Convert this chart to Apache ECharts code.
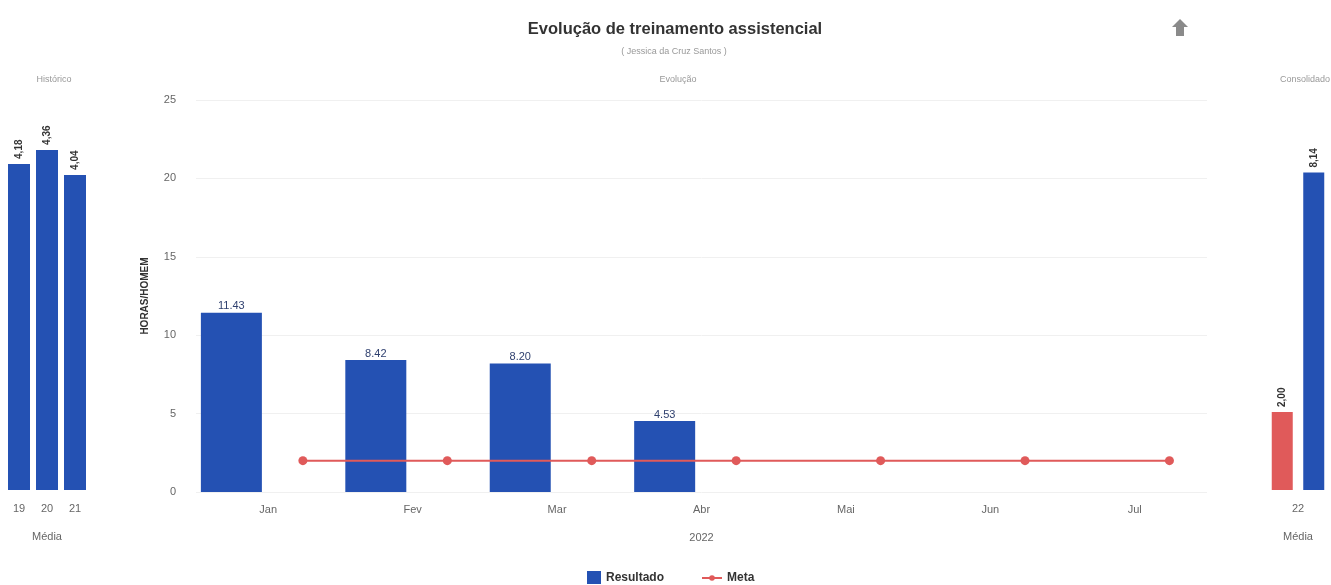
<!DOCTYPE html>
<html>
<head>
<meta charset="utf-8">
<script src="https://cdn.jsdelivr.net/npm/echarts@6/dist/echarts.min.js"></script>
<style>html,body{margin:0;padding:0;background:#fff}#c{width:1331px;height:585px}</style>
</head>
<body>
<div id="c"></div>
<script>
// ---- data ----
const histCategories = ['19', '20', '21'];
const histValues = [4.18, 4.36, 4.04];
const months = ['Jan', 'Fev', 'Mar', 'Abr', 'Mai', 'Jun', 'Jul'];
const resultadoValues = [11.43, 8.42, 8.20, 4.53, null, null, null];
const metaValues = [2, 2, 2, 2, 2, 2, 2];
const consCategories = ['22'];
const consMeta = [2.00];
const consResultado = [8.14];
const yTicks = { min: 0, max: 25, interval: 5 };

const BLUE = '#2451b3';
const RED = '#e05a5a';
const FONT = '"Liberation Sans", Arial, sans-serif';

const BAR_OFFSET = -0.255;
const LINE_OFFSET = 0.24;

const comma = v => v.toFixed(2).replace('.', ',');

const rotLabel = {
  show: true, position: 'top', rotate: 90, align: 'left', verticalAlign: 'middle',
  distance: 5, fontSize: 10, fontWeight: 'bold', color: '#333', fontFamily: FONT,
  formatter: p => comma(p.value)
};

const legendText = { fontSize: 12, fontWeight: 'bold', color: '#333', fontFamily: FONT };

const chart = echarts.init(document.getElementById('c'));
chart.setOption({
  animation: false,
  textStyle: { fontFamily: FONT },
  title: [
    { text: 'Evolução de treinamento assistencial', left: 670, top: 16, textAlign: 'center',
      textStyle: { fontSize: 16.5, fontWeight: 'bold', color: '#333', fontFamily: FONT } },
    { text: '( Jessica da Cruz Santos )', left: 669, top: 42, textAlign: 'center',
      textStyle: { fontSize: 9, fontWeight: 'normal', color: '#999', fontFamily: FONT } },
    { text: 'Evolução', left: 673, top: 70, textAlign: 'center',
      textStyle: { fontSize: 9, fontWeight: 'normal', color: '#999', fontFamily: FONT } },
    { text: 'Histórico', left: 49, top: 70, textAlign: 'center',
      textStyle: { fontSize: 9, fontWeight: 'normal', color: '#999', fontFamily: FONT } },
    { text: 'Consolidado', left: 1300, top: 70, textAlign: 'center',
      textStyle: { fontSize: 9, fontWeight: 'normal', color: '#999', fontFamily: FONT } }
  ],
  graphic: [{
    type: 'polygon', left: 1172, top: 19,
    shape: { points: [[8, 0], [16, 8], [12, 8], [12, 17], [4, 17], [4, 8], [0, 8]] },
    style: { fill: '#8a8a8a' }
  }],
  legend: [
    { top: 566, left: 582, itemWidth: 14, itemHeight: 13, textStyle: legendText,
      data: [{ name: 'Resultado', icon: 'rect' }] },
    { top: 567, left: 696, itemWidth: 20, itemHeight: 7, textStyle: legendText,
      data: [{ name: 'Meta' }] }
  ],
  grid: [
    { left: 5, width: 84, top: 100, height: 390 },
    { left: 196, width: 1011, top: 100, height: 392 },
    { left: 1265, width: 66, top: 100, height: 390 }
  ],
  xAxis: [
    { gridIndex: 0, type: 'category', data: histCategories,
      axisLine: { show: false }, axisTick: { show: false },
      axisLabel: { color: '#666', fontSize: 11, margin: 13 },
      name: 'Média', nameLocation: 'middle', nameGap: 41,
      nameTextStyle: { color: '#666', fontSize: 11 } },
    { gridIndex: 1, type: 'category', data: months, boundaryGap: true,
      axisLine: { show: false }, axisTick: { show: false },
      axisLabel: { color: '#666', fontSize: 11, margin: 12 },
      name: '2022', nameLocation: 'middle', nameGap: 40,
      nameTextStyle: { color: '#666', fontSize: 11 } },
    { gridIndex: 1, type: 'value', min: -0.5, max: months.length - 0.5, show: false },
    { gridIndex: 2, type: 'category', data: consCategories,
      axisLine: { show: false }, axisTick: { show: false },
      axisLabel: { color: '#666', fontSize: 11, margin: 13 },
      name: 'Média', nameLocation: 'middle', nameGap: 41,
      nameTextStyle: { color: '#666', fontSize: 11 } }
  ],
  yAxis: [
    { gridIndex: 0, type: 'value', min: 0, max: 5, show: false },
    { gridIndex: 1, type: 'value', min: yTicks.min, max: yTicks.max, interval: yTicks.interval,
      axisLine: { show: false }, axisTick: { show: false },
      axisLabel: { color: '#666', fontSize: 11, margin: 20 },
      splitLine: { lineStyle: { color: '#f0f0f0' } },
      name: 'HORAS/HOMEM', nameLocation: 'middle', nameGap: 46,
      nameTextStyle: { color: '#333', fontSize: 10, fontWeight: 'bold' } },
    { gridIndex: 2, type: 'value', min: 0, max: 10, show: false }
  ],
  series: [
    { name: 'Histórico', type: 'bar', xAxisIndex: 0, yAxisIndex: 0, data: histValues,
      barWidth: 22, itemStyle: { color: BLUE }, label: rotLabel },
    { name: 'Resultado', type: 'bar', xAxisIndex: 2, yAxisIndex: 1, barWidth: 61,
      data: resultadoValues.map((v, i) => [i + BAR_OFFSET, v]),
      itemStyle: { color: BLUE },
      label: { show: true, position: 'top', distance: 1, fontSize: 11, color: '#2e3f6e',
        formatter: p => p.value[1] == null ? '' : p.value[1].toFixed(2) } },
    { name: 'Meta', type: 'line', xAxisIndex: 2, yAxisIndex: 1,
      data: metaValues.map((v, i) => [i + LINE_OFFSET, v]),
      symbol: 'circle', symbolSize: 9, lineStyle: { color: RED, width: 2 },
      itemStyle: { color: RED } },
    { name: 'ConsMeta', type: 'bar', xAxisIndex: 3, yAxisIndex: 2, data: consMeta,
      barWidth: 21, barGap: '50%', itemStyle: { color: RED }, label: rotLabel },
    { name: 'ConsResultado', type: 'bar', xAxisIndex: 3, yAxisIndex: 2, data: consResultado,
      barWidth: 21, barGap: '50%', itemStyle: { color: BLUE }, label: rotLabel }
  ]
});
</script>
</body>
</html>
